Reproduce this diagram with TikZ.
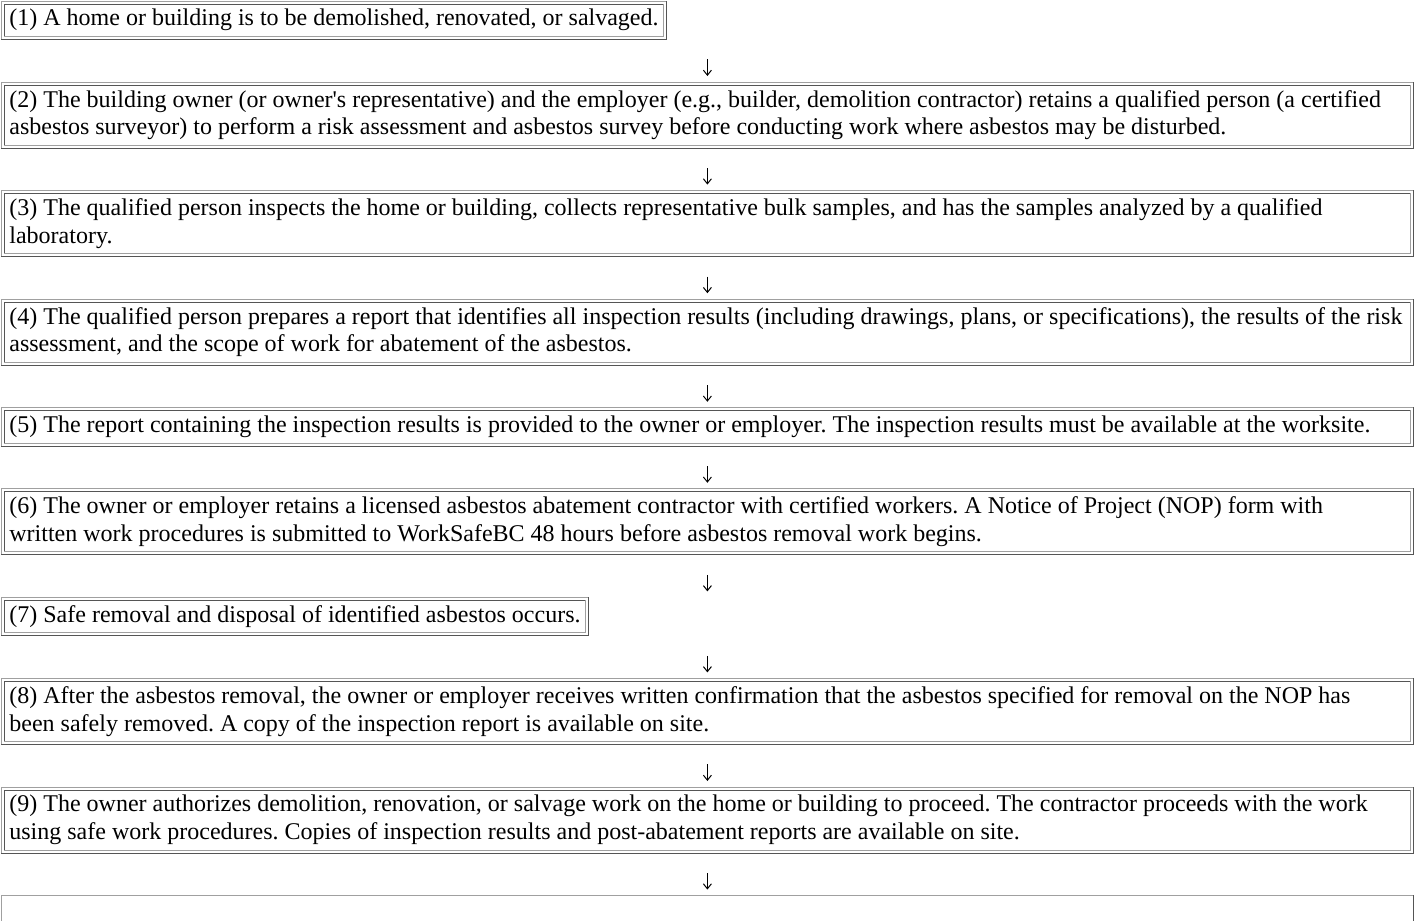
\documentclass[tikz,border=0pt]{standalone}
\usepackage{fontspec}
\setmainfont{Liberation Serif}
\frenchspacing
\usetikzlibrary{positioning,arrows.meta}
\definecolor{FrameLight}{HTML}{A0A0A0}
\definecolor{FrameDark}{HTML}{555555}

\begin{document}
\begin{tikzpicture}[
      node distance=21.3pt,
      every node/.style={align=flush left},
      litedge/.style={draw=FrameLight, line width=0.5pt, line cap=rect},
      darkedge/.style={draw=FrameDark, line width=0.5pt, line cap=rect},
      outset/.style={append after command={
          (\tikzlastnode.south west) edge[litedge] (\tikzlastnode.north west)
          (\tikzlastnode.north west) edge[litedge] (\tikzlastnode.north east)
          (\tikzlastnode.north east) edge[darkedge] (\tikzlastnode.south east)
          (\tikzlastnode.south east) edge[darkedge] (\tikzlastnode.south west)}},
      inset/.style={append after command={
          ([shift={(1.5pt,1.5pt)}]\tikzlastnode.south west) edge[darkedge] ([shift={(1.5pt,-1.5pt)}]\tikzlastnode.north west)
          ([shift={(1.5pt,-1.5pt)}]\tikzlastnode.north west) edge[darkedge] ([shift={(-1.5pt,-1.5pt)}]\tikzlastnode.north east)
          ([shift={(-1.5pt,-1.5pt)}]\tikzlastnode.north east) edge[litedge] ([shift={(-1.5pt,1.5pt)}]\tikzlastnode.south east)
          ([shift={(-1.5pt,1.5pt)}]\tikzlastnode.south east) edge[litedge] ([shift={(1.5pt,1.5pt)}]\tikzlastnode.south west)}},
      stepbox/.style={outset, inset, anchor=north west, inner xsep=4pt, inner ysep=2pt,
          minimum height=18.8pt, font=\fontsize{12pt}{13.8pt}\selectfont},
      fullbox/.style={stepbox, text width=698pt},
      twoline/.style={fullbox, minimum height=32.6pt},
      arrow/.style={line width=0.5pt, -{Straight Barb[length=2.5pt,width=4pt]},
          shorten <=10pt, shorten >=3pt}
    ]
      \useasboundingbox (0,0) rectangle (707.5pt,-460.5pt);
      \node[stepbox] (b1) at (0.5pt,-0.5pt) {(1) A home or building is to be demolished, renovated, or salvaged.};
      \node[twoline, below=of b1.south west, anchor=north west] (b2) {\mbox{(2) The building owner (or owner\textquotesingle s representative) and the employer (e.g., builder, demolition contractor) retains a qualified person (a certified}\\\mbox{asbestos surveyor) to perform a risk assessment and asbestos survey before conducting work where asbestos may be disturbed.}};
      \node[twoline, below=of b2.south west, anchor=north west] (b3) {\mbox{(3) The qualified person inspects the home or building, collects representative bulk samples, and has the samples analyzed by a qualified}\\laboratory.};
      \node[twoline, below=of b3.south west, anchor=north west] (b4) {\mbox{(4) The qualified person prepares a report that identifies all inspection results (including drawings, plans, or specifications), the results of the risk}\\\mbox{assessment, and the scope of work for abatement of the asbestos.}};
      \node[fullbox, below=of b4.south west, anchor=north west] (b5) {\mbox{(5) The report containing the inspection results is provided to the owner or employer. The inspection results must be available at the worksite.}};
      \node[twoline, below=of b5.south west, anchor=north west] (b6) {\mbox{(6) The owner or employer retains a licensed asbestos abatement contractor with certified workers. A Notice of Project (NOP) form with}\\\mbox{written work procedures is submitted to WorkSafeBC 48 hours before asbestos removal work begins.}};
      \node[stepbox, below=of b6.south west, anchor=north west] (b7) {(7) Safe removal and disposal of identified asbestos occurs.};
      \node[twoline, below=of b7.south west, anchor=north west] (b8) {\mbox{(8) After the asbestos removal, the owner or employer receives written confirmation that the asbestos specified for removal on the NOP has}\\\mbox{been safely removed. A copy of the inspection report is available on site.}};
      \node[twoline, below=of b8.south west, anchor=north west] (b9) {\mbox{(9) The owner authorizes demolition, renovation, or salvage work on the home or building to proceed. The contractor proceeds with the work}\\\mbox{using safe work procedures. Copies of inspection results and post-abatement reports are available on site.}};
      \node[outset, minimum width=706pt, minimum height=40pt, below=of b9.south west, anchor=north west] (b10) {};
      % arrows between the steps, all on the centre line
      \foreach \a/\b in {b1/b2,b2/b3,b3/b4,b4/b5,b5/b6,b6/b7,b7/b8,b8/b9,b9/b10}
        \draw[arrow] (\a.south -| b10.north) -- (\b.north -| b10.north);
    \end{tikzpicture}
\end{document}
